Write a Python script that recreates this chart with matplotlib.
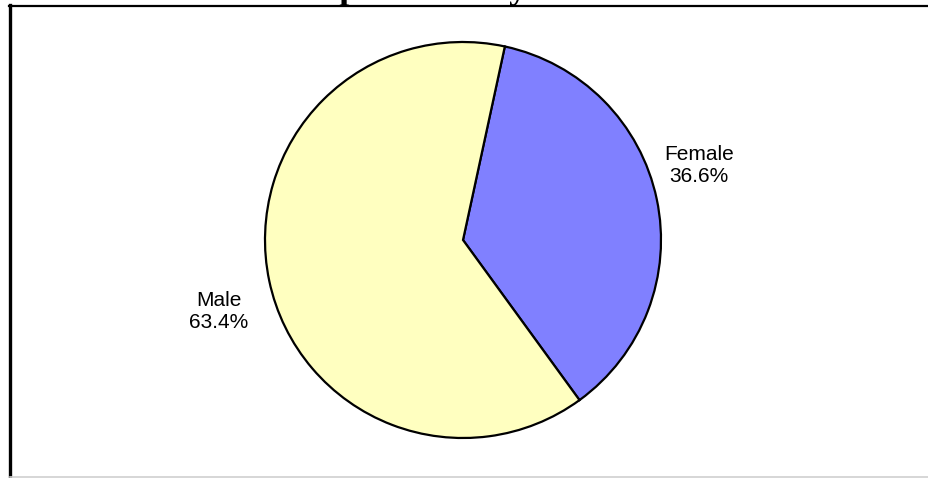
import matplotlib
matplotlib.use("Agg")
import matplotlib.pyplot as plt
from matplotlib.lines import Line2D

# data
labels = ["Female", "Male"]
shares = [36.6, 63.4]
colors = ["#8080FF", "#FFFFC0"]
title = "Respondents by Gender"

W, H = 929, 478
fig = plt.figure(figsize=(W / 100, H / 100), dpi=100)
fig.patch.set_facecolor("white")

# pie centre and radius in pixels
cx, cy, r = 463, 240, 198
ax = fig.add_axes([(cx - r) / W, (H - cy - r) / H, 2 * r / W, 2 * r / H])
wedges, _ = ax.pie(shares, colors=colors, startangle=77.8, counterclock=False,
                   radius=1.0, wedgeprops=dict(edgecolor="black", linewidth=1.6))
ax.set_xlim(-1, 1)
ax.set_ylim(-1, 1)
ax.set_aspect("equal")
ax.axis("off")

# slice labels
label_pos = {"Female": (699, 165), "Male": (219, 311)}
for lab, val in zip(labels, shares):
    px, py = label_pos[lab]
    fig.text(px / W, 1 - py / H, f"{lab}\n{val:.1f}%", ha="center", va="center",
             fontsize=15, family="Liberation Sans", linespacing=1.2)

# title, clipped at the top edge
fig.text(468 / W, 1 + 2.5 / H, title, ha="center", va="baseline",
         fontsize=26, fontweight="bold", family="Liberation Serif")

# frame lines
fig.add_artist(Line2D([9.5 / W, 1], [1 - 5.5 / H, 1 - 5.5 / H], color="black", lw=1.6,
                      transform=fig.transFigure))
fig.add_artist(Line2D([10 / W, 10 / W], [1 - 5 / H, 0], color="black", lw=2.4,
                      transform=fig.transFigure))
fig.add_artist(Line2D([10 / W, 1], [1.5 / H, 1.5 / H], color="#d0d0d0", lw=1.2,
                      transform=fig.transFigure))

fig.savefig("out.png", dpi=100)
